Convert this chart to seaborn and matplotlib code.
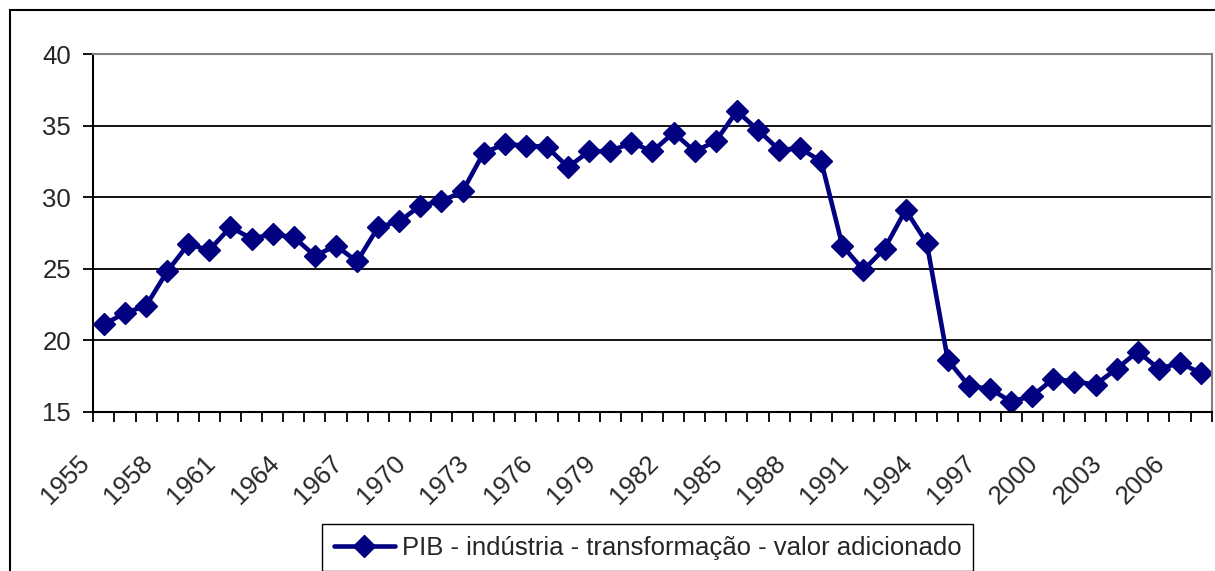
import numpy as np
import pandas as pd
import seaborn as sns
import matplotlib.pyplot as plt
from matplotlib.patches import Rectangle
from matplotlib.transforms import ScaledTranslation

# dados (PIB - industria de transformacao, % do PIB)
years = list(range(1955, 2008))
pib_ind = [21.1, 21.9, 22.4, 24.8, 26.7, 26.3, 27.9, 27.1, 27.4, 27.2,
           25.9, 26.6, 25.5, 27.9, 28.3, 29.4, 29.7, 30.4, 33.1, 33.7,
           33.6, 33.5, 32.1, 33.2, 33.2, 33.8, 33.2, 34.5, 33.2, 33.9,
           36.0, 34.7, 33.3, 33.4, 32.5, 26.6, 24.9, 26.4, 29.1, 26.8,
           18.6, 16.8, 16.6, 15.7, 16.1, 17.3, 17.1, 16.9, 18.0, 19.2,
           18.0, 18.4, 17.7]
label_years = years[::3]
y_ticks = [15, 20, 25, 30, 35, 40]
serie_nome = 'PIB - indústria - transformação - valor adicionado'

df = pd.DataFrame({'ano': years, 'valor': pib_ind})

sns.set_style('white')
plt.rcParams['font.family'] = ['Liberation Sans', 'DejaVu Sans']
fs = 18.5

W, H = 1215, 571
fig = plt.figure(figsize=(W / 100, H / 100), dpi=100)
x0, x1, yt, yb = 93.3, 1211.6, 54, 411.7
ax = fig.add_axes([x0 / W, 1 - yb / H, (x1 - x0) / W, (yb - yt) / H])

# moldura externa do grafico
fig.patches.append(Rectangle((10 / W, -0.1), 1.2, 1 - 10 / H + 0.1,
                             transform=fig.transFigure, fill=False,
                             edgecolor='black', linewidth=1.5))

sns.lineplot(data=df, x='ano', y='valor', ax=ax, color='#000080',
             linewidth=3.3, marker='D', markersize=11.5,
             markeredgecolor='#000080', markeredgewidth=1, label=serie_nome)

ax.set_xlim(years[0] - 0.5, years[-1] + 0.5)
ax.set_ylim(15, 40)
ax.set_yticks(y_ticks)
ax.set_xticks(label_years)
ax.set_xticklabels([str(a) for a in label_years], rotation=45,
                   ha='right', va='top', rotation_mode='anchor')
ax.set_xticks(np.arange(years[0] - 0.5, years[-1] + 1, 1), minor=True)
ax.set_xlabel('')
ax.set_ylabel('')

ax.tick_params(axis='x', which='major', length=0, pad=28, labelsize=fs)
ax.tick_params(axis='x', which='minor', length=7, width=1.3,
               direction='out', color='black', bottom=True)
ax.tick_params(axis='y', length=7, width=1.3, direction='out',
               color='black', pad=9, labelsize=fs, left=True)

offset = ScaledTranslation(-27 / 100, 0, fig.dpi_scale_trans)
for lbl in ax.get_xticklabels():
    lbl.set_transform(lbl.get_transform() + offset)

ax.yaxis.grid(True, color='black', linewidth=1.3)
ax.set_axisbelow(True)
for s in ['left', 'bottom']:
    ax.spines[s].set_color('black')
    ax.spines[s].set_linewidth(1.5)
for s in ['top', 'right']:
    ax.spines[s].set_color('#808080')
    ax.spines[s].set_linewidth(1.5)

ax.legend(loc='upper left', bbox_to_anchor=(322 / W, 1 - 524 / H),
          bbox_transform=fig.transFigure, frameon=True, fancybox=False,
          edgecolor='black', framealpha=1, fontsize=fs, handlelength=2.4,
          handletextpad=0.25, borderpad=0.45, borderaxespad=0)
ax.get_legend().get_frame().set_linewidth(1)

fig.savefig('out.png', dpi=100, facecolor='white')
